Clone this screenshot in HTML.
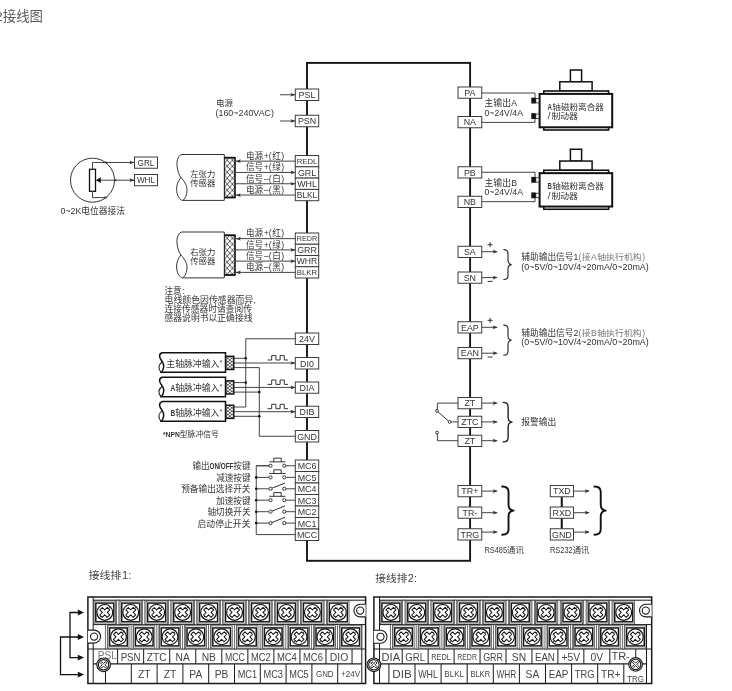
<!DOCTYPE html>
<html><head><meta charset="utf-8"><title>接线图</title>
<style>
html,body{margin:0;padding:0;background:#fff;}
body{width:732px;height:691px;overflow:hidden;font-family:"Liberation Sans","Noto Sans CJK SC",sans-serif;}
svg{display:block;will-change:transform;}
svg text{font-family:"Liberation Sans","Noto Sans CJK SC",sans-serif;}
</style></head>
<body>
<svg width="732" height="691" viewBox="0 0 732 691">
<rect x="0" y="0" width="732" height="691" fill="#ffffff"/>
<text x="2.75" y="20.8" font-size="13.4" fill="#5a5a5a" textLength="40.2" lengthAdjust="spacingAndGlyphs">接线图</text><text x="-4.7" y="20.8" font-size="13.4" fill="#5a5a5a">2</text>
<rect x="307.0" y="62.9" width="163.1" height="497.9" fill="none" stroke="#161616" stroke-width="1.9" />
<rect x="295.3" y="89" width="23.4" height="11.5" fill="#fff" stroke="#3c3c3c" stroke-width="1" />
<text x="307.0" y="98.01444444444444" font-size="8.9" text-anchor="middle" fill="#333333" >PSL</text>
<rect x="295.3" y="115.25" width="23.4" height="11.5" fill="#fff" stroke="#3c3c3c" stroke-width="1" />
<text x="307.0" y="124.26444444444444" font-size="8.9" text-anchor="middle" fill="#333333" >PSN</text>
<rect x="295.3" y="155.5" width="23.4" height="11.3" fill="#fff" stroke="#3c3c3c" stroke-width="1" />
<text x="307.0" y="163.98247943351035" font-size="7.69" text-anchor="middle" fill="#333333" >REDL</text>
<rect x="295.3" y="166.8" width="23.4" height="11.3" fill="#fff" stroke="#3c3c3c" stroke-width="1" />
<text x="307.0" y="175.71444444444447" font-size="8.9" text-anchor="middle" fill="#333333" >GRL</text>
<rect x="295.3" y="178.1" width="23.4" height="11.3" fill="#fff" stroke="#3c3c3c" stroke-width="1" />
<text x="307.0" y="187.01444444444445" font-size="8.9" text-anchor="middle" fill="#333333" >WHL</text>
<rect x="295.3" y="189.4" width="23.4" height="11.3" fill="#fff" stroke="#3c3c3c" stroke-width="1" />
<text x="307.0" y="198.12961732810993" font-size="8.38" text-anchor="middle" fill="#333333" >BLKL</text>
<rect x="295.3" y="233.0" width="23.4" height="11.25" fill="#fff" stroke="#3c3c3c" stroke-width="1" />
<text x="307.0" y="241.29731259381796" font-size="7.23" text-anchor="middle" fill="#333333" >REDR</text>
<rect x="295.3" y="244.25" width="23.4" height="11.25" fill="#fff" stroke="#3c3c3c" stroke-width="1" />
<text x="307.0" y="253.13944444444445" font-size="8.9" text-anchor="middle" fill="#333333" >GRR</text>
<rect x="295.3" y="255.5" width="23.4" height="11.25" fill="#fff" stroke="#3c3c3c" stroke-width="1" />
<text x="307.0" y="264.2769390833424" font-size="8.58" text-anchor="middle" fill="#333333" >WHR</text>
<rect x="295.3" y="266.75" width="23.4" height="11.25" fill="#fff" stroke="#3c3c3c" stroke-width="1" />
<text x="307.0" y="275.26517219264844" font-size="7.85" text-anchor="middle" fill="#333333" >BLKR</text>
<rect x="295.3" y="333" width="23.4" height="11.5" fill="#fff" stroke="#3c3c3c" stroke-width="1" />
<text x="307.0" y="342.01444444444445" font-size="8.9" text-anchor="middle" fill="#333333" >24V</text>
<rect x="295.3" y="357.5" width="23.4" height="11.5" fill="#fff" stroke="#3c3c3c" stroke-width="1" />
<text x="307.0" y="366.51444444444445" font-size="8.9" text-anchor="middle" fill="#333333" >DI0</text>
<rect x="295.3" y="382" width="23.4" height="11.25" fill="#fff" stroke="#3c3c3c" stroke-width="1" />
<text x="307.0" y="390.88944444444445" font-size="8.9" text-anchor="middle" fill="#333333" >DIA</text>
<rect x="295.3" y="406.25" width="23.4" height="11.25" fill="#fff" stroke="#3c3c3c" stroke-width="1" />
<text x="307.0" y="415.13944444444445" font-size="8.9" text-anchor="middle" fill="#333333" >DIB</text>
<rect x="295.3" y="430.5" width="23.4" height="11.5" fill="#fff" stroke="#3c3c3c" stroke-width="1" />
<text x="307.0" y="439.51444444444445" font-size="8.9" text-anchor="middle" fill="#333333" >GND</text>
<rect x="295.3" y="460.0" width="23.4" height="11.5" fill="#fff" stroke="#3c3c3c" stroke-width="1" />
<text x="307.0" y="469.01444444444445" font-size="8.9" text-anchor="middle" fill="#333333" >MC6</text>
<rect x="295.3" y="471.5" width="23.4" height="11.5" fill="#fff" stroke="#3c3c3c" stroke-width="1" />
<text x="307.0" y="480.51444444444445" font-size="8.9" text-anchor="middle" fill="#333333" >MC5</text>
<rect x="295.3" y="483.0" width="23.4" height="11.5" fill="#fff" stroke="#3c3c3c" stroke-width="1" />
<text x="307.0" y="492.01444444444445" font-size="8.9" text-anchor="middle" fill="#333333" >MC4</text>
<rect x="295.3" y="494.5" width="23.4" height="11.5" fill="#fff" stroke="#3c3c3c" stroke-width="1" />
<text x="307.0" y="503.51444444444445" font-size="8.9" text-anchor="middle" fill="#333333" >MC3</text>
<rect x="295.3" y="506.0" width="23.4" height="11.5" fill="#fff" stroke="#3c3c3c" stroke-width="1" />
<text x="307.0" y="515.0144444444445" font-size="8.9" text-anchor="middle" fill="#333333" >MC2</text>
<rect x="295.3" y="517.5" width="23.4" height="11.5" fill="#fff" stroke="#3c3c3c" stroke-width="1" />
<text x="307.0" y="526.5144444444445" font-size="8.9" text-anchor="middle" fill="#333333" >MC1</text>
<rect x="295.3" y="529.0" width="23.4" height="11.5" fill="#fff" stroke="#3c3c3c" stroke-width="1" />
<text x="307.0" y="538.0144444444445" font-size="8.9" text-anchor="middle" fill="#333333" >MCC</text>
<rect x="458.0" y="87.0" width="23.75" height="11.25" fill="#fff" stroke="#3c3c3c" stroke-width="1" />
<text x="469.875" y="95.88944444444444" font-size="8.9" text-anchor="middle" fill="#333333" >PA</text>
<rect x="458.0" y="116.5" width="23.75" height="11.25" fill="#fff" stroke="#3c3c3c" stroke-width="1" />
<text x="469.875" y="125.38944444444444" font-size="8.9" text-anchor="middle" fill="#333333" >NA</text>
<rect x="458.0" y="166.75" width="23.75" height="11.25" fill="#fff" stroke="#3c3c3c" stroke-width="1" />
<text x="469.875" y="175.63944444444445" font-size="8.9" text-anchor="middle" fill="#333333" >PB</text>
<rect x="458.0" y="196.25" width="23.75" height="11.25" fill="#fff" stroke="#3c3c3c" stroke-width="1" />
<text x="469.875" y="205.13944444444445" font-size="8.9" text-anchor="middle" fill="#333333" >NB</text>
<rect x="458.0" y="246.25" width="23.75" height="11.25" fill="#fff" stroke="#3c3c3c" stroke-width="1" />
<text x="469.875" y="255.13944444444445" font-size="8.9" text-anchor="middle" fill="#333333" >SA</text>
<rect x="458.0" y="272" width="23.75" height="11.25" fill="#fff" stroke="#3c3c3c" stroke-width="1" />
<text x="469.875" y="280.88944444444445" font-size="8.9" text-anchor="middle" fill="#333333" >SN</text>
<rect x="458.0" y="321.75" width="23.75" height="11.25" fill="#fff" stroke="#3c3c3c" stroke-width="1" />
<text x="469.875" y="330.63944444444445" font-size="8.9" text-anchor="middle" fill="#333333" >EAP</text>
<rect x="458.0" y="347.5" width="23.75" height="11.25" fill="#fff" stroke="#3c3c3c" stroke-width="1" />
<text x="469.875" y="356.38944444444445" font-size="8.9" text-anchor="middle" fill="#333333" >EAN</text>
<rect x="458.0" y="397.5" width="23.75" height="11.25" fill="#fff" stroke="#3c3c3c" stroke-width="1" />
<text x="469.875" y="406.38944444444445" font-size="8.9" text-anchor="middle" fill="#333333" >ZT</text>
<rect x="458.0" y="416.25" width="23.75" height="11.25" fill="#fff" stroke="#3c3c3c" stroke-width="1" />
<text x="469.875" y="425.13944444444445" font-size="8.9" text-anchor="middle" fill="#333333" >ZTC</text>
<rect x="458.0" y="435.25" width="23.75" height="11.25" fill="#fff" stroke="#3c3c3c" stroke-width="1" />
<text x="469.875" y="444.13944444444445" font-size="8.9" text-anchor="middle" fill="#333333" >ZT</text>
<rect x="458.0" y="485.5" width="23.75" height="11.25" fill="#fff" stroke="#3c3c3c" stroke-width="1" />
<text x="469.875" y="494.38944444444445" font-size="8.9" text-anchor="middle" fill="#333333" >TR+</text>
<rect x="458.0" y="507" width="23.75" height="11.25" fill="#fff" stroke="#3c3c3c" stroke-width="1" />
<text x="469.875" y="515.8894444444445" font-size="8.9" text-anchor="middle" fill="#333333" >TR-</text>
<rect x="458.0" y="528.75" width="23.75" height="11.25" fill="#fff" stroke="#3c3c3c" stroke-width="1" />
<text x="469.875" y="537.6394444444445" font-size="8.9" text-anchor="middle" fill="#333333" >TRG</text>
<line x1="561.75" y1="497" x2="561.75" y2="529" stroke="#111" stroke-width="2" />
<rect x="550.3" y="485.5" width="23.2" height="11.25" fill="#fff" stroke="#3c3c3c" stroke-width="1" />
<text x="561.9" y="494.38944444444445" font-size="8.9" text-anchor="middle" fill="#333333" >TXD</text>
<rect x="550.3" y="507" width="23.2" height="11.25" fill="#fff" stroke="#3c3c3c" stroke-width="1" />
<text x="561.9" y="515.8894444444445" font-size="8.9" text-anchor="middle" fill="#333333" >RXD</text>
<rect x="550.3" y="528.75" width="23.2" height="11.25" fill="#fff" stroke="#3c3c3c" stroke-width="1" />
<text x="561.9" y="537.6394444444445" font-size="8.9" text-anchor="middle" fill="#333333" >GND</text>
<line x1="280" y1="94.75" x2="295" y2="94.75" stroke="#444" stroke-width="1" />
<polygon points="295.5,94.75 290.5,92.9 291.5,94.75 290.5,96.6" fill="#333"/>
<line x1="280" y1="121" x2="295" y2="121" stroke="#444" stroke-width="1" />
<polygon points="295.5,121 290.5,119.15 291.5,121 290.5,122.85" fill="#333"/>
<text x="216" y="106.3" font-size="8.4" fill="#333333" textLength="17" lengthAdjust="spacingAndGlyphs">电源</text>
<text x="215.5" y="116" font-size="8.9" text-anchor="start" fill="#333333" textLength="58.5" lengthAdjust="spacingAndGlyphs" >(160~240VAC)</text>
<circle cx="92.5" cy="180.2" r="22" fill="none" stroke="#333" stroke-width="1"/>
<rect x="89.5" y="169.3" width="6" height="22" fill="#fff" stroke="#111" stroke-width="1.3" />
<polyline points="92.5,169.3 92.5,162.5 134,162.5" fill="none" stroke="#444" stroke-width="1" />
<polygon points="134.5,162.5 129.5,160.65 130.5,162.5 129.5,164.35" fill="#333"/>
<polygon points="108.5,162.5 105.0,161.1 106.0,162.5 105.0,163.9" fill="#333"/>
<polyline points="92.5,191.3 92.5,197.6 107,197.6" fill="none" stroke="#444" stroke-width="1" />
<polygon points="107.5,197.6 104.0,196.2 105.0,197.6 104.0,199.0" fill="#333"/>
<line x1="100" y1="180.2" x2="134" y2="180.2" stroke="#444" stroke-width="1" />
<polygon points="95.8,180.2 100.8,177.3 100.8,183.1" fill="#111"/>
<polygon points="113.5,180.2 117.0,178.79999999999998 116.0,180.2 117.0,181.6" fill="#333"/>
<polygon points="134.5,180.2 129.5,178.35 130.5,180.2 129.5,182.04999999999998" fill="#333"/>
<rect x="134.5" y="157" width="23" height="11.25" fill="#fff" stroke="#3c3c3c" stroke-width="1" />
<text x="146.0" y="165.64055555555555" font-size="8.2" text-anchor="middle" fill="#333333" >GRL</text>
<rect x="134.5" y="174.5" width="23" height="11.25" fill="#fff" stroke="#3c3c3c" stroke-width="1" />
<text x="146.0" y="183.14055555555555" font-size="8.2" text-anchor="middle" fill="#333333" >WHL</text>
<text x="60.5" y="213.8" font-size="8.7" fill="#333333" textLength="20.73" lengthAdjust="spacingAndGlyphs">0~2K</text><text x="81.28" y="213.8" font-size="8.7" fill="#333333" textLength="43.7" lengthAdjust="spacingAndGlyphs">电位器接法</text>
<defs><pattern id="hatch" x="224.6" y="1.2" width="5.2" height="6" patternUnits="userSpaceOnUse"><rect width="5.2" height="6" fill="#fff"/><path d="M0,0 L5.2,6 M5.2,0 L0,6" stroke="#222" stroke-width="0.75"/></pattern></defs>
<path d="M224.3,154.5 L182,154.5 C179,154.5 176.4,160.0 177,165.5 C177.5,171.0 179,175.0 181,177.5 C184,181.0 187,185.0 187,189.5 C187,195.0 185,199.0 182.6,200.4 L224.3,200.4 Z" fill="#fff" stroke="#333" stroke-width="1" />
<path d="M181,177.5 C178,181.0 176.5,185.0 176.6,189.5 C176.7,195.0 179.5,200.0 182.6,200.4" fill="none" stroke="#333" stroke-width="1" />
<rect x="224.6" y="157.7" width="10.4" height="39.8" fill="url(#hatch)" stroke="none"/>
<line x1="224.29999999999998" y1="157.7" x2="235.6" y2="157.7" stroke="#111" stroke-width="1.8" />
<line x1="224.29999999999998" y1="197.5" x2="235.6" y2="197.5" stroke="#111" stroke-width="1.8" />
<line x1="235.0" y1="157.7" x2="235.0" y2="197.5" stroke="#111" stroke-width="1.6" />
<line x1="224.6" y1="157.7" x2="224.6" y2="197.5" stroke="#222" stroke-width="1.0" />
<text x="190.2" y="177.1" font-size="8.3" fill="#333333" textLength="25.2" lengthAdjust="spacingAndGlyphs">左张力</text>
<text x="190.2" y="186.4" font-size="8.3" fill="#333333" textLength="25.2" lengthAdjust="spacingAndGlyphs">传感器</text>
<line x1="235.5" y1="161.15" x2="295.5" y2="161.15" stroke="#444" stroke-width="1" />
<polygon points="235.8,161.15 240.8,159.3 239.8,161.15 240.8,163.0" fill="#333"/>
<text y="158.95" font-size="8.6" fill="#333333"><tspan x="246">电源</tspan><tspan x="263.78">+(</tspan><tspan x="272.25">红</tspan><tspan x="281.14">)</tspan></text>
<line x1="235.5" y1="172.45" x2="295.5" y2="172.45" stroke="#444" stroke-width="1" />
<polygon points="295.5,172.45 290.5,170.6 291.5,172.45 290.5,174.29999999999998" fill="#333"/>
<text y="170.25" font-size="8.6" fill="#333333"><tspan x="246">信号</tspan><tspan x="263.78">+(</tspan><tspan x="272.25">绿</tspan><tspan x="281.14">)</tspan></text>
<line x1="235.5" y1="183.75" x2="295.5" y2="183.75" stroke="#444" stroke-width="1" />
<polygon points="295.5,183.75 290.5,181.9 291.5,183.75 290.5,185.6" fill="#333"/>
<text y="181.55" font-size="8.6" fill="#333333"><tspan x="246">信号</tspan><tspan x="263.88">–(</tspan><tspan x="272.2">白</tspan><tspan x="281.14">)</tspan></text>
<line x1="235.5" y1="195.05" x2="295.5" y2="195.05" stroke="#444" stroke-width="1" />
<polygon points="235.8,195.05 240.8,193.20000000000002 239.8,195.05 240.8,196.9" fill="#333"/>
<text y="192.85" font-size="8.6" fill="#333333"><tspan x="246">电源</tspan><tspan x="263.88">–(</tspan><tspan x="272.2">黑</tspan><tspan x="281.14">)</tspan></text>
<path d="M224.3,232 L182,232 C179,232 176.4,237.5 177,243 C177.5,248.5 179,252.5 181,255 C184,258.5 187,262.5 187,267 C187,272.5 185,276.5 182.6,277.9 L224.3,277.9 Z" fill="#fff" stroke="#333" stroke-width="1" />
<path d="M181,255 C178,258.5 176.5,262.5 176.6,267 C176.7,272.5 179.5,277.5 182.6,277.9" fill="none" stroke="#333" stroke-width="1" />
<rect x="224.6" y="235.2" width="10.4" height="39.8" fill="url(#hatch)" stroke="none"/>
<line x1="224.29999999999998" y1="235.2" x2="235.6" y2="235.2" stroke="#111" stroke-width="1.8" />
<line x1="224.29999999999998" y1="275.0" x2="235.6" y2="275.0" stroke="#111" stroke-width="1.8" />
<line x1="235.0" y1="235.2" x2="235.0" y2="275.0" stroke="#111" stroke-width="1.6" />
<line x1="224.6" y1="235.2" x2="224.6" y2="275.0" stroke="#222" stroke-width="1.0" />
<text x="190.2" y="254.6" font-size="8.3" fill="#333333" textLength="25.2" lengthAdjust="spacingAndGlyphs">右张力</text>
<text x="190.2" y="263.9" font-size="8.3" fill="#333333" textLength="25.2" lengthAdjust="spacingAndGlyphs">传感器</text>
<line x1="235.5" y1="238.625" x2="295.5" y2="238.625" stroke="#444" stroke-width="1" />
<polygon points="235.8,238.625 240.8,236.775 239.8,238.625 240.8,240.475" fill="#333"/>
<text y="236.425" font-size="8.6" fill="#333333"><tspan x="246">电源</tspan><tspan x="263.78">+(</tspan><tspan x="272.25">红</tspan><tspan x="281.14">)</tspan></text>
<line x1="235.5" y1="249.875" x2="295.5" y2="249.875" stroke="#444" stroke-width="1" />
<polygon points="295.5,249.875 290.5,248.025 291.5,249.875 290.5,251.725" fill="#333"/>
<text y="247.675" font-size="8.6" fill="#333333"><tspan x="246">信号</tspan><tspan x="263.78">+(</tspan><tspan x="272.25">绿</tspan><tspan x="281.14">)</tspan></text>
<line x1="235.5" y1="261.125" x2="295.5" y2="261.125" stroke="#444" stroke-width="1" />
<polygon points="295.5,261.125 290.5,259.275 291.5,261.125 290.5,262.975" fill="#333"/>
<text y="258.925" font-size="8.6" fill="#333333"><tspan x="246">信号</tspan><tspan x="263.88">–(</tspan><tspan x="272.2">白</tspan><tspan x="281.14">)</tspan></text>
<line x1="235.5" y1="272.375" x2="295.5" y2="272.375" stroke="#444" stroke-width="1" />
<polygon points="235.8,272.375 240.8,270.525 239.8,272.375 240.8,274.225" fill="#333"/>
<text y="270.175" font-size="8.6" fill="#333333"><tspan x="246">电源</tspan><tspan x="263.88">–(</tspan><tspan x="272.2">黑</tspan><tspan x="281.14">)</tspan></text>
<text y="294" font-size="8.6" fill="#333333"><tspan x="164.5">注意</tspan><tspan x="182.61">:</tspan></text>
<text x="164.5" y="303.2" font-size="8.6" fill="#333333" textLength="88.8" lengthAdjust="spacingAndGlyphs">电线颜色因传感器而异</text><text x="253.61" y="303.2" font-size="8.6" fill="#333333">,</text>
<text x="164.5" y="312.3" font-size="8.6" fill="#333333" textLength="87.5" lengthAdjust="spacingAndGlyphs">连接传感器时请查阅传</text>
<text x="164.5" y="321.4" font-size="8.6" fill="#333333" textLength="88" lengthAdjust="spacingAndGlyphs">感器说明书以正确接线</text>
<defs><pattern id="hatch2" x="225.8" y="0.3" width="4" height="3.3" patternUnits="userSpaceOnUse"><rect width="4" height="3.3" fill="#fff"/><path d="M0,0 L4,3.3 M4,0 L0,3.3" stroke="#222" stroke-width="0.7"/></pattern></defs>
<polyline points="295.5,338.75 245.75,338.75 245.75,407 234,407" fill="none" stroke="#444" stroke-width="1" />
<line x1="234" y1="358.3" x2="245.75" y2="358.3" stroke="#444" stroke-width="1" />
<line x1="234" y1="382.6" x2="245.75" y2="382.6" stroke="#444" stroke-width="1" />
<polyline points="234,367.6 259.3,367.6 259.3,436.25 295.5,436.25" fill="none" stroke="#444" stroke-width="1" />
<line x1="234" y1="392.1" x2="259.3" y2="392.1" stroke="#444" stroke-width="1" />
<line x1="234" y1="416.3" x2="259.3" y2="416.3" stroke="#444" stroke-width="1" />
<line x1="234" y1="363" x2="295" y2="363" stroke="#444" stroke-width="1" />
<polygon points="295.5,363 290.5,361.15 291.5,363 290.5,364.85" fill="#333"/>
<line x1="234" y1="387.4" x2="295" y2="387.4" stroke="#444" stroke-width="1" />
<polygon points="295.5,387.4 290.5,385.54999999999995 291.5,387.4 290.5,389.25" fill="#333"/>
<line x1="234" y1="411.7" x2="295" y2="411.7" stroke="#444" stroke-width="1" />
<polygon points="295.5,411.7 290.5,409.84999999999997 291.5,411.7 290.5,413.55" fill="#333"/>
<circle cx="245.75" cy="358.3" r="1.3" fill="#111" stroke="none" stroke-width="0"/>
<circle cx="245.75" cy="382.6" r="1.3" fill="#111" stroke="none" stroke-width="0"/>
<circle cx="259.3" cy="392.1" r="1.3" fill="#111" stroke="none" stroke-width="0"/>
<circle cx="259.3" cy="416.3" r="1.3" fill="#111" stroke="none" stroke-width="0"/>
<path d="M225.5,352.7 L162,352.7 C160.6,353.3 159.4,354.9 159.6,356.5 C159.9,358.7 161.3,360.2 162.3,361.7 C163.4,363.3 164,365.09999999999997 163.7,366.9 C163.4,369.09999999999997 162.4,371.09999999999997 161.3,372.3 L225.5,372.3 Z" fill="#fff" stroke="#111" stroke-width="1.5" />
<path d="M162.3,361.7 C160.3,363.3 158.9,365.09999999999997 158.9,367.09999999999997 C158.9,369.3 160,371.3 161.3,372.3" fill="none" stroke="#222" stroke-width="1.1" />
<rect x="225.8" y="356.3" width="8" height="13.2" fill="url(#hatch2)" stroke="#111" stroke-width="1.4"/>
<text x="166.3" y="366.7" font-size="8.8" fill="#333333" textLength="53.1" lengthAdjust="spacingAndGlyphs">主轴脉冲输入</text>
<text x="219.8" y="364.9" font-size="6.5" text-anchor="start" fill="#333333" >*</text>
<path d="M225.5,377.2 L162,377.2 C160.6,377.8 159.4,379.4 159.6,381.0 C159.9,383.2 161.3,384.7 162.3,386.2 C163.4,387.8 164,389.59999999999997 163.7,391.4 C163.4,393.59999999999997 162.4,395.59999999999997 161.3,396.8 L225.5,396.8 Z" fill="#fff" stroke="#111" stroke-width="1.5" />
<path d="M162.3,386.2 C160.3,387.8 158.9,389.59999999999997 158.9,391.59999999999997 C158.9,393.8 160,395.8 161.3,396.8" fill="none" stroke="#222" stroke-width="1.1" />
<rect x="225.8" y="380.8" width="8" height="13.2" fill="url(#hatch2)" stroke="#111" stroke-width="1.4"/>
<text x="170.5" y="391.2" font-size="8.8" fill="#333333" font-weight="bold" textLength="4.7" lengthAdjust="spacingAndGlyphs">A</text><text x="175.23" y="391.2" font-size="8.8" fill="#333333" textLength="44.2" lengthAdjust="spacingAndGlyphs">轴脉冲输入</text>
<text x="219.8" y="389.4" font-size="6.5" text-anchor="start" fill="#333333" >*</text>
<path d="M225.5,401.6 L162,401.6 C160.6,402.20000000000005 159.4,403.8 159.6,405.40000000000003 C159.9,407.6 161.3,409.1 162.3,410.6 C163.4,412.20000000000005 164,414.0 163.7,415.8 C163.4,418.0 162.4,420.0 161.3,421.20000000000005 L225.5,421.20000000000005 Z" fill="#fff" stroke="#111" stroke-width="1.5" />
<path d="M162.3,410.6 C160.3,412.20000000000005 158.9,414.0 158.9,416.0 C158.9,418.20000000000005 160,420.20000000000005 161.3,421.20000000000005" fill="none" stroke="#222" stroke-width="1.1" />
<rect x="225.8" y="405.20000000000005" width="8" height="13.2" fill="url(#hatch2)" stroke="#111" stroke-width="1.4"/>
<text x="170.5" y="415.6" font-size="8.8" fill="#333333" font-weight="bold" textLength="4.7" lengthAdjust="spacingAndGlyphs">B</text><text x="175.23" y="415.6" font-size="8.8" fill="#333333" textLength="44.2" lengthAdjust="spacingAndGlyphs">轴脉冲输入</text>
<text x="219.8" y="413.8" font-size="6.5" text-anchor="start" fill="#333333" >*</text>
<polyline points="267.5,360 271.7,360 271.7,355.6 275.9,355.6 275.9,360 280.1,360 280.1,355.6 284.3,355.6 284.3,360 288.0,360" fill="none" stroke="#333" stroke-width="1" />
<polyline points="267.5,384.4 271.7,384.4 271.7,380.0 275.9,380.0 275.9,384.4 280.1,384.4 280.1,380.0 284.3,380.0 284.3,384.4 288.0,384.4" fill="none" stroke="#333" stroke-width="1" />
<polyline points="267.5,408.7 271.7,408.7 271.7,404.3 275.9,404.3 275.9,408.7 280.1,408.7 280.1,404.3 284.3,404.3 284.3,408.7 288.0,408.7" fill="none" stroke="#333" stroke-width="1" />
<text x="163" y="436.8" font-size="7.8" fill="#333333" font-weight="bold" textLength="16.78" lengthAdjust="spacingAndGlyphs">*NPN</text><text x="179.79" y="436.8" font-size="7.8" fill="#333333" textLength="39" lengthAdjust="spacingAndGlyphs">型脉冲信号</text>
<polyline points="270.25,465.75 256.25,465.75 256.25,534.6 295.5,534.6" fill="none" stroke="#444" stroke-width="1" />
<line x1="256.25" y1="465.75" x2="268.8" y2="465.75" stroke="#444" stroke-width="1" />
<circle cx="270.5" cy="465.75" r="1.6" fill="#fff" stroke="#333" stroke-width="1"/>
<circle cx="284.3" cy="465.75" r="1.6" fill="#fff" stroke="#333" stroke-width="1"/>
<line x1="286" y1="465.75" x2="295.5" y2="465.75" stroke="#444" stroke-width="1" />
<line x1="269.3" y1="461.85" x2="285.5" y2="461.85" stroke="#333" stroke-width="1" />
<polyline points="273.8,461.85 273.8,458.15 281.2,458.15 281.2,461.85" fill="none" stroke="#333" stroke-width="1" />
<text x="192.5" y="469.35" font-size="8.6" fill="#333333" textLength="17.1" lengthAdjust="spacingAndGlyphs">输出</text><text x="209.6" y="469.35" font-size="8.6" fill="#333333" font-weight="bold" textLength="23.79" lengthAdjust="spacingAndGlyphs">ON/OFF</text><text x="233.35" y="469.35" font-size="8.6" fill="#333333" textLength="17.1" lengthAdjust="spacingAndGlyphs">按键</text>
<line x1="256.25" y1="477.4" x2="268.8" y2="477.4" stroke="#444" stroke-width="1" />
<circle cx="256.25" cy="477.4" r="1.3" fill="#111" stroke="none" stroke-width="0"/>
<circle cx="270.5" cy="477.4" r="1.6" fill="#fff" stroke="#333" stroke-width="1"/>
<circle cx="284.3" cy="477.4" r="1.6" fill="#fff" stroke="#333" stroke-width="1"/>
<line x1="286" y1="477.4" x2="295.5" y2="477.4" stroke="#444" stroke-width="1" />
<line x1="269.3" y1="473.5" x2="285.5" y2="473.5" stroke="#333" stroke-width="1" />
<polyline points="273.8,473.5 273.8,469.79999999999995 281.2,469.79999999999995 281.2,473.5" fill="none" stroke="#333" stroke-width="1" />
<text x="216.2" y="481" font-size="8.6" fill="#333333" textLength="34.3" lengthAdjust="spacingAndGlyphs">减速按键</text>
<line x1="256.25" y1="488.8" x2="268.8" y2="488.8" stroke="#444" stroke-width="1" />
<circle cx="256.25" cy="488.8" r="1.3" fill="#111" stroke="none" stroke-width="0"/>
<circle cx="270.5" cy="488.8" r="1.6" fill="#fff" stroke="#333" stroke-width="1"/>
<circle cx="284.3" cy="488.8" r="1.6" fill="#fff" stroke="#333" stroke-width="1"/>
<line x1="286" y1="488.8" x2="295.5" y2="488.8" stroke="#444" stroke-width="1" />
<line x1="272" y1="488.2" x2="285" y2="483.0" stroke="#333" stroke-width="1" />
<text x="181.2" y="492.4" font-size="8.6" fill="#333333" textLength="69.3" lengthAdjust="spacingAndGlyphs">预备输出选择开关</text>
<line x1="256.25" y1="500.2" x2="268.8" y2="500.2" stroke="#444" stroke-width="1" />
<circle cx="256.25" cy="500.2" r="1.3" fill="#111" stroke="none" stroke-width="0"/>
<circle cx="270.5" cy="500.2" r="1.6" fill="#fff" stroke="#333" stroke-width="1"/>
<circle cx="284.3" cy="500.2" r="1.6" fill="#fff" stroke="#333" stroke-width="1"/>
<line x1="286" y1="500.2" x2="295.5" y2="500.2" stroke="#444" stroke-width="1" />
<line x1="269.3" y1="496.3" x2="285.5" y2="496.3" stroke="#333" stroke-width="1" />
<polyline points="273.8,496.3 273.8,492.59999999999997 281.2,492.59999999999997 281.2,496.3" fill="none" stroke="#333" stroke-width="1" />
<text x="216.2" y="503.8" font-size="8.6" fill="#333333" textLength="34.3" lengthAdjust="spacingAndGlyphs">加速按键</text>
<line x1="256.25" y1="511.7" x2="268.8" y2="511.7" stroke="#444" stroke-width="1" />
<circle cx="256.25" cy="511.7" r="1.3" fill="#111" stroke="none" stroke-width="0"/>
<circle cx="270.5" cy="511.7" r="1.6" fill="#fff" stroke="#333" stroke-width="1"/>
<circle cx="284.3" cy="511.7" r="1.6" fill="#fff" stroke="#333" stroke-width="1"/>
<line x1="286" y1="511.7" x2="295.5" y2="511.7" stroke="#444" stroke-width="1" />
<line x1="272" y1="511.09999999999997" x2="285" y2="505.9" stroke="#333" stroke-width="1" />
<text x="207.5" y="515.3" font-size="8.6" fill="#333333" textLength="43" lengthAdjust="spacingAndGlyphs">轴切换开关</text>
<line x1="256.25" y1="523.1" x2="268.8" y2="523.1" stroke="#444" stroke-width="1" />
<circle cx="256.25" cy="523.1" r="1.3" fill="#111" stroke="none" stroke-width="0"/>
<circle cx="270.5" cy="523.1" r="1.6" fill="#fff" stroke="#333" stroke-width="1"/>
<circle cx="284.3" cy="523.1" r="1.6" fill="#fff" stroke="#333" stroke-width="1"/>
<line x1="286" y1="523.1" x2="295.5" y2="523.1" stroke="#444" stroke-width="1" />
<line x1="272" y1="522.5" x2="285" y2="517.3000000000001" stroke="#333" stroke-width="1" />
<text x="197.5" y="526.7" font-size="8.6" fill="#333333" textLength="53" lengthAdjust="spacingAndGlyphs">启动停止开关</text>
<polyline points="481.75,93 535,93 535,98" fill="none" stroke="#444" stroke-width="1" />
<polyline points="481.75,122.4 535,122.4 535,118.8" fill="none" stroke="#444" stroke-width="1" />
<rect x="570.4" y="70" width="11.2" height="11.8" fill="#fff" stroke="#111" stroke-width="1.5" />
<rect x="559.8" y="81.8" width="32.3" height="9.2" fill="#fff" stroke="#111" stroke-width="1.5" />
<rect x="543.8" y="91" width="64.8" height="39" fill="#fff" stroke="#111" stroke-width="1.6" />
<rect x="539.6" y="93.9" width="72.6" height="33.4" fill="#fff" stroke="#111" stroke-width="2" />
<rect x="535.8" y="98.5" width="3.2" height="4.4" fill="#fff" stroke="#222" stroke-width="0.8" />
<rect x="531.3" y="97.7" width="4.5" height="5.8" fill="#111" stroke="none" stroke-width="0" />
<rect x="535.8" y="114.0" width="3.2" height="4.4" fill="#fff" stroke="#222" stroke-width="0.8" />
<rect x="531.3" y="113.2" width="4.5" height="5.8" fill="#111" stroke="none" stroke-width="0" />
<text x="547.5" y="109.6" font-size="8.2" fill="#333333" font-weight="bold" textLength="4.38" lengthAdjust="spacingAndGlyphs">A</text><text x="552.33" y="109.6" font-size="8.2" fill="#333333" textLength="51.5" lengthAdjust="spacingAndGlyphs">轴磁粉离合器</text>
<text x="547.8" y="119.3" font-size="8.2" fill="#333333" textLength="2.73" lengthAdjust="spacingAndGlyphs">/</text><text x="551.42" y="119.3" font-size="8.2" fill="#333333" textLength="26.4" lengthAdjust="spacingAndGlyphs">制动器</text>
<polyline points="481.75,172.25 535,172.25 535,177.25" fill="none" stroke="#444" stroke-width="1" />
<polyline points="481.75,201.65 535,201.65 535,198.05" fill="none" stroke="#444" stroke-width="1" />
<rect x="570.4" y="149.25" width="11.2" height="11.8" fill="#fff" stroke="#111" stroke-width="1.5" />
<rect x="559.8" y="161.05" width="32.3" height="9.2" fill="#fff" stroke="#111" stroke-width="1.5" />
<rect x="543.8" y="170.25" width="64.8" height="39" fill="#fff" stroke="#111" stroke-width="1.6" />
<rect x="539.6" y="173.15" width="72.6" height="33.4" fill="#fff" stroke="#111" stroke-width="2" />
<rect x="535.8" y="177.75" width="3.2" height="4.4" fill="#fff" stroke="#222" stroke-width="0.8" />
<rect x="531.3" y="176.95" width="4.5" height="5.8" fill="#111" stroke="none" stroke-width="0" />
<rect x="535.8" y="193.25" width="3.2" height="4.4" fill="#fff" stroke="#222" stroke-width="0.8" />
<rect x="531.3" y="192.45" width="4.5" height="5.8" fill="#111" stroke="none" stroke-width="0" />
<text x="547.5" y="188.85" font-size="8.2" fill="#333333" font-weight="bold" textLength="4.38" lengthAdjust="spacingAndGlyphs">B</text><text x="552.33" y="188.85" font-size="8.2" fill="#333333" textLength="51.5" lengthAdjust="spacingAndGlyphs">轴磁粉离合器</text>
<text x="547.8" y="198.55" font-size="8.2" fill="#333333" textLength="2.73" lengthAdjust="spacingAndGlyphs">/</text><text x="551.42" y="198.55" font-size="8.2" fill="#333333" textLength="26.4" lengthAdjust="spacingAndGlyphs">制动器</text>
<text x="484.5" y="106.3" font-size="8.7" fill="#333333" textLength="26.5" lengthAdjust="spacingAndGlyphs">主输出</text><text x="511.2" y="106.3" font-size="8.7" fill="#333333">A</text>
<text x="484.5" y="116" font-size="8.9" text-anchor="start" fill="#333333" textLength="38.5" lengthAdjust="spacingAndGlyphs" >0~24V/4A</text>
<text x="484.5" y="185.55" font-size="8.7" fill="#333333" textLength="26.5" lengthAdjust="spacingAndGlyphs">主输出</text><text x="511.2" y="185.55" font-size="8.7" fill="#333333">B</text>
<text x="484.5" y="195.25" font-size="8.9" text-anchor="start" fill="#333333" textLength="38.5" lengthAdjust="spacingAndGlyphs" >0~24V/4A</text>
<line x1="481.75" y1="251.7" x2="496.8" y2="251.7" stroke="#444" stroke-width="1" />
<polygon points="497.8,251.7 492.8,249.85 493.8,251.7 492.8,253.54999999999998" fill="#333"/>
<line x1="481.75" y1="277.6" x2="496.8" y2="277.6" stroke="#444" stroke-width="1" />
<polygon points="497.8,277.6 492.8,275.75 493.8,277.6 492.8,279.45000000000005" fill="#333"/>
<line x1="487.6" y1="244.7" x2="492.6" y2="244.7" stroke="#333" stroke-width="1" />
<line x1="490.1" y1="242.2" x2="490.1" y2="247.2" stroke="#333" stroke-width="1" />
<line x1="487.6" y1="281.4" x2="492.6" y2="281.4" stroke="#333" stroke-width="1" />
<path d="M503.8,249.6 C506.95,249.6 508.0,251.0 508.0,253.6 L508.0,260.6 C508.0,263.0 509.32,264.20000000000005 511.3,264.6 C509.32,265.0 508.0,266.20000000000005 508.0,268.6 L508.0,275.6 C508.0,278.20000000000005 506.95,279.6 503.8,279.6" fill="none" stroke="#333" stroke-width="1.2" stroke-linecap="round" stroke-linejoin="round"/>
<text x="521.3" y="260.3" font-size="8.7" fill="#333333" textLength="52.2" lengthAdjust="spacingAndGlyphs">辅助输出信号</text><text x="573.46" y="260.3" font-size="8.7" fill="#333333">1</text>
<text x="578.6" y="260.3" font-size="8.5" fill="#777">(</text><text x="581.95" y="260.3" font-size="8.5" fill="#777">接</text><text x="590.97" y="260.3" font-size="8.5" fill="#777">A</text><text x="597.16" y="260.3" font-size="8.5" fill="#777" textLength="44.6" lengthAdjust="spacingAndGlyphs">轴执行机构</text><text x="642.27" y="260.3" font-size="8.5" fill="#777">)</text>
<text x="521.3" y="269.8" font-size="8.9" text-anchor="start" fill="#333333" textLength="127.5" lengthAdjust="spacingAndGlyphs" >(0~5V/0~10V/4~20mA/0~20mA)</text>
<line x1="481.75" y1="327.29999999999995" x2="496.8" y2="327.29999999999995" stroke="#444" stroke-width="1" />
<polygon points="497.8,327.29999999999995 492.8,325.44999999999993 493.8,327.29999999999995 492.8,329.15" fill="#333"/>
<line x1="481.75" y1="353.20000000000005" x2="496.8" y2="353.20000000000005" stroke="#444" stroke-width="1" />
<polygon points="497.8,353.20000000000005 492.8,351.35 493.8,353.20000000000005 492.8,355.05000000000007" fill="#333"/>
<line x1="487.6" y1="320.29999999999995" x2="492.6" y2="320.29999999999995" stroke="#333" stroke-width="1" />
<line x1="490.1" y1="317.79999999999995" x2="490.1" y2="322.79999999999995" stroke="#333" stroke-width="1" />
<line x1="487.6" y1="357.0" x2="492.6" y2="357.0" stroke="#333" stroke-width="1" />
<path d="M503.8,325.2 C506.95,325.2 508.0,326.59999999999997 508.0,329.2 L508.0,336.20000000000005 C508.0,338.6 509.32,339.80000000000007 511.3,340.20000000000005 C509.32,340.6 508.0,341.80000000000007 508.0,344.20000000000005 L508.0,351.20000000000005 C508.0,353.80000000000007 506.95,355.20000000000005 503.8,355.20000000000005" fill="none" stroke="#333" stroke-width="1.2" stroke-linecap="round" stroke-linejoin="round"/>
<text x="521.3" y="335.9" font-size="8.7" fill="#333333" textLength="52.2" lengthAdjust="spacingAndGlyphs">辅助输出信号</text><text x="573.46" y="335.9" font-size="8.7" fill="#333333">2</text>
<text x="578.6" y="335.9" font-size="8.5" fill="#777">(</text><text x="581.95" y="335.9" font-size="8.5" fill="#777">接</text><text x="590.97" y="335.9" font-size="8.5" fill="#777">B</text><text x="597.16" y="335.9" font-size="8.5" fill="#777" textLength="44.6" lengthAdjust="spacingAndGlyphs">轴执行机构</text><text x="642.27" y="335.9" font-size="8.5" fill="#777">)</text>
<text x="521.3" y="345.4" font-size="8.9" text-anchor="start" fill="#333333" textLength="127.5" lengthAdjust="spacingAndGlyphs" >(0~5V/0~10V/4~20mA/0~20mA)</text>
<line x1="481.75" y1="403.1" x2="496.8" y2="403.1" stroke="#444" stroke-width="1" />
<polygon points="497.8,403.1 492.8,401.25 493.8,403.1 492.8,404.95000000000005" fill="#333"/>
<line x1="481.75" y1="421.9" x2="496.8" y2="421.9" stroke="#444" stroke-width="1" />
<polygon points="497.8,421.9 492.8,420.04999999999995 493.8,421.9 492.8,423.75" fill="#333"/>
<line x1="481.75" y1="440.7" x2="496.8" y2="440.7" stroke="#444" stroke-width="1" />
<polygon points="497.8,440.7 492.8,438.84999999999997 493.8,440.7 492.8,442.55" fill="#333"/>
<path d="M503.2,402.4 C506.89599999999996,402.4 508.128,403.97499999999997 508.128,406.9 L508.128,417.65 C508.128,420.34999999999997 509.6768,421.75 512.0,422.15 C509.6768,422.54999999999995 508.128,423.95 508.128,426.65 L508.128,437.4 C508.128,440.325 506.89599999999996,441.9 503.2,441.9" fill="none" stroke="#222" stroke-width="1.4" stroke-linecap="round" stroke-linejoin="round"/>
<text x="521.3" y="425.2" font-size="8.7" fill="#333333" textLength="35" lengthAdjust="spacingAndGlyphs">报警输出</text>
<polyline points="458,403.1 437.4,403.1 437.4,409.4" fill="none" stroke="#444" stroke-width="1" />
<circle cx="437" cy="410.8" r="1.4" fill="#fff" stroke="#333" stroke-width="1"/>
<line x1="438" y1="411.9" x2="448.4" y2="420.9" stroke="#333" stroke-width="1" />
<circle cx="449.6" cy="421.9" r="1.4" fill="#fff" stroke="#333" stroke-width="1"/>
<line x1="451" y1="421.9" x2="458" y2="421.9" stroke="#444" stroke-width="1" />
<circle cx="437" cy="432.6" r="1.4" fill="#fff" stroke="#333" stroke-width="1"/>
<polyline points="437.4,434 437.4,440.7 458,440.7" fill="none" stroke="#444" stroke-width="1" />
<line x1="481.75" y1="491.1" x2="496.8" y2="491.1" stroke="#444" stroke-width="1" />
<polygon points="497.8,491.1 492.8,489.25 493.8,491.1 492.8,492.95000000000005" fill="#333"/>
<line x1="573.5" y1="491.1" x2="588.8" y2="491.1" stroke="#444" stroke-width="1" />
<polygon points="589.8,491.1 584.8,489.25 585.8,491.1 584.8,492.95000000000005" fill="#333"/>
<line x1="481.75" y1="512.7" x2="496.8" y2="512.7" stroke="#444" stroke-width="1" />
<polygon points="497.8,512.7 492.8,510.85 493.8,512.7 492.8,514.5500000000001" fill="#333"/>
<line x1="573.5" y1="512.7" x2="588.8" y2="512.7" stroke="#444" stroke-width="1" />
<polygon points="589.8,512.7 584.8,510.85 585.8,512.7 584.8,514.5500000000001" fill="#333"/>
<line x1="481.75" y1="532.1" x2="496.8" y2="532.1" stroke="#444" stroke-width="1" />
<polygon points="497.8,532.1 492.8,530.25 493.8,532.1 492.8,533.95" fill="#333"/>
<line x1="573.5" y1="532.1" x2="588.8" y2="532.1" stroke="#444" stroke-width="1" />
<polygon points="589.8,532.1 584.8,530.25 585.8,532.1 584.8,533.95" fill="#333"/>
<path d="M502.1,486.5 C506.93,486.5 508.54,488.425 508.54,492.0 L508.54,505.1 C508.54,508.40000000000003 510.564,510.20000000000005 513.6,510.6 C510.564,511.0 508.54,512.8000000000001 508.54,516.1 L508.54,529.2 C508.54,532.7750000000001 506.93,534.7 502.1,534.7" fill="none" stroke="#111" stroke-width="1.9" stroke-linecap="round" stroke-linejoin="round"/>
<path d="M594.4,486.5 C599.146,486.5 600.728,488.425 600.728,492.0 L600.728,505.1 C600.728,508.40000000000003 602.7167999999999,510.20000000000005 605.6999999999999,510.6 C602.7167999999999,511.0 600.728,512.8000000000001 600.728,516.1 L600.728,529.2 C600.728,532.7750000000001 599.146,534.7 594.4,534.7" fill="none" stroke="#111" stroke-width="1.9" stroke-linecap="round" stroke-linejoin="round"/>
<text x="484.5" y="552.6" font-size="8.4" fill="#333333" textLength="22.49" lengthAdjust="spacingAndGlyphs">RS485</text><text x="507" y="552.6" font-size="8.4" fill="#333333" textLength="16.8" lengthAdjust="spacingAndGlyphs">通讯</text>
<text x="550" y="552.6" font-size="8.4" fill="#333333" textLength="22.62" lengthAdjust="spacingAndGlyphs">RS232</text><text x="572.66" y="552.6" font-size="8.4" fill="#333333" textLength="16.8" lengthAdjust="spacingAndGlyphs">通讯</text>
<defs><g id="scr"><circle cx="0" cy="0" r="7.9" fill="#fff" stroke="#111" stroke-width="1.15"/><g transform="rotate(45)"><path d="M0,-7.8 L0,7.8" stroke="#1a1a1a" stroke-width="0.8" fill="none"/><path d="M-1.75,-5.4 L1.75,-5.4 L1.75,-1.75 L5.2,-1.75 L5.2,1.75 L1.75,1.75 L1.75,5.4 L-1.75,5.4 L-1.75,1.75 L-5.2,1.75 L-5.2,-1.75 L-1.75,-1.75 Z" fill="#fff" stroke="#111" stroke-width="0.95" stroke-linejoin="round"/></g></g><g id="sscr"><circle cx="0" cy="0" r="6.8" fill="#fff" stroke="#1a1a1a" stroke-width="1.15"/><circle cx="0" cy="0" r="5.2" fill="#fff" stroke="#1a1a1a" stroke-width="1.15"/><path d="M-0.9,-3.5 L0.9,-3.5 L0.9,-0.9 L3.5,-0.9 L3.5,0.9 L0.9,0.9 L0.9,3.5 L-0.9,3.5 L-0.9,0.9 L-3.5,0.9 L-3.5,-0.9 L-0.9,-0.9 Z" transform="rotate(45)" fill="#fff" stroke="#1a1a1a" stroke-width="0.9" stroke-linejoin="round"/></g></defs>
<rect x="87.9" y="597.0" width="277.70000000000005" height="86.5" fill="#fff" stroke="#1a1a1a" stroke-width="1.5" />
<line x1="93.2" y1="597.0" x2="93.2" y2="630" stroke="#1a1a1a" stroke-width="1" />
<line x1="93.2" y1="643.4" x2="93.2" y2="683.5" stroke="#1a1a1a" stroke-width="1" />
<line x1="93.2" y1="600.2" x2="365.6" y2="600.2" stroke="#1a1a1a" stroke-width="1" />
<line x1="93.2" y1="624.6" x2="365.6" y2="624.6" stroke="#1a1a1a" stroke-width="1" />
<line x1="87.9" y1="649" x2="365.6" y2="649" stroke="#1a1a1a" stroke-width="1.2" />
<line x1="93.2" y1="663.9" x2="361.8" y2="663.9" stroke="#1a1a1a" stroke-width="1.1" />
<line x1="361.8" y1="624.6" x2="361.8" y2="683.5" stroke="#1a1a1a" stroke-width="1" />
<path d="M87.9,630.1 L94.1,630.1 A6.5,6.5 0 0 1 94.1,643.1 L87.9,643.1" fill="#fff" stroke="#1a1a1a" stroke-width="1.1" />
<circle cx="94.1" cy="636.6" r="3.6" fill="#fff" stroke="#1a1a1a" stroke-width="1.1"/>
<path d="M365.6,604.3000000000001 L360.2,604.3000000000001 A6.3,6.3 0 0 0 360.2,616.9 L365.6,616.9" fill="#fff" stroke="#1a1a1a" stroke-width="1.1" />
<circle cx="360.2" cy="610.6" r="3.6" fill="#fff" stroke="#1a1a1a" stroke-width="1.1"/>
<rect x="94.1" y="601.0" width="21.4" height="23.0" fill="#fff" stroke="#333" stroke-width="0.7" />
<rect x="95.8" y="603.1" width="18.0" height="18.7" fill="#fff" stroke="#1a1a1a" stroke-width="1.5" />
<use href="#scr" x="104.8" y="612.4"/>
<rect x="116.5" y="600.2" width="2.4" height="24.4" fill="#fff" stroke="#333" stroke-width="0.7" />
<rect x="120.05" y="601.0" width="21.4" height="23.0" fill="#fff" stroke="#333" stroke-width="0.7" />
<rect x="121.75" y="603.1" width="18.0" height="18.7" fill="#fff" stroke="#1a1a1a" stroke-width="1.5" />
<use href="#scr" x="130.75" y="612.4"/>
<rect x="142.45" y="600.2" width="2.4" height="24.4" fill="#fff" stroke="#333" stroke-width="0.7" />
<rect x="146.0" y="601.0" width="21.4" height="23.0" fill="#fff" stroke="#333" stroke-width="0.7" />
<rect x="147.7" y="603.1" width="18.0" height="18.7" fill="#fff" stroke="#1a1a1a" stroke-width="1.5" />
<use href="#scr" x="156.7" y="612.4"/>
<rect x="168.4" y="600.2" width="2.4" height="24.4" fill="#fff" stroke="#333" stroke-width="0.7" />
<rect x="171.95" y="601.0" width="21.4" height="23.0" fill="#fff" stroke="#333" stroke-width="0.7" />
<rect x="173.64999999999998" y="603.1" width="18.0" height="18.7" fill="#fff" stroke="#1a1a1a" stroke-width="1.5" />
<use href="#scr" x="182.65" y="612.4"/>
<rect x="194.35" y="600.2" width="2.4" height="24.4" fill="#fff" stroke="#333" stroke-width="0.7" />
<rect x="197.89999999999998" y="601.0" width="21.4" height="23.0" fill="#fff" stroke="#333" stroke-width="0.7" />
<rect x="199.59999999999997" y="603.1" width="18.0" height="18.7" fill="#fff" stroke="#1a1a1a" stroke-width="1.5" />
<use href="#scr" x="208.6" y="612.4"/>
<rect x="220.29999999999998" y="600.2" width="2.4" height="24.4" fill="#fff" stroke="#333" stroke-width="0.7" />
<rect x="223.85" y="601.0" width="21.4" height="23.0" fill="#fff" stroke="#333" stroke-width="0.7" />
<rect x="225.54999999999998" y="603.1" width="18.0" height="18.7" fill="#fff" stroke="#1a1a1a" stroke-width="1.5" />
<use href="#scr" x="234.55" y="612.4"/>
<rect x="246.25" y="600.2" width="2.4" height="24.4" fill="#fff" stroke="#333" stroke-width="0.7" />
<rect x="249.79999999999998" y="601.0" width="21.4" height="23.0" fill="#fff" stroke="#333" stroke-width="0.7" />
<rect x="251.49999999999997" y="603.1" width="18.0" height="18.7" fill="#fff" stroke="#1a1a1a" stroke-width="1.5" />
<use href="#scr" x="260.5" y="612.4"/>
<rect x="272.2" y="600.2" width="2.4" height="24.4" fill="#fff" stroke="#333" stroke-width="0.7" />
<rect x="275.75" y="601.0" width="21.4" height="23.0" fill="#fff" stroke="#333" stroke-width="0.7" />
<rect x="277.45" y="603.1" width="18.0" height="18.7" fill="#fff" stroke="#1a1a1a" stroke-width="1.5" />
<use href="#scr" x="286.45" y="612.4"/>
<rect x="298.15" y="600.2" width="2.4" height="24.4" fill="#fff" stroke="#333" stroke-width="0.7" />
<rect x="301.7" y="601.0" width="21.4" height="23.0" fill="#fff" stroke="#333" stroke-width="0.7" />
<rect x="303.4" y="603.1" width="18.0" height="18.7" fill="#fff" stroke="#1a1a1a" stroke-width="1.5" />
<use href="#scr" x="312.4" y="612.4"/>
<rect x="324.09999999999997" y="600.2" width="2.4" height="24.4" fill="#fff" stroke="#333" stroke-width="0.7" />
<rect x="327.65" y="601.0" width="21.4" height="23.0" fill="#fff" stroke="#333" stroke-width="0.7" />
<rect x="329.34999999999997" y="603.1" width="18.0" height="18.7" fill="#fff" stroke="#1a1a1a" stroke-width="1.5" />
<use href="#scr" x="338.35" y="612.4"/>
<rect x="107.9" y="625.8" width="21.1" height="22.3" fill="#fff" stroke="#333" stroke-width="0.7" />
<rect x="109.60000000000001" y="627.9" width="17.700000000000003" height="18.0" fill="#fff" stroke="#1a1a1a" stroke-width="1.5" />
<use href="#scr" x="118.45" y="636.85"/>
<rect x="105.30000000000001" y="624.6" width="2.0" height="24.4" fill="#fff" stroke="#333" stroke-width="0.7" />
<rect x="133.70000000000002" y="625.8" width="21.1" height="22.3" fill="#fff" stroke="#333" stroke-width="0.7" />
<rect x="135.4" y="627.9" width="17.700000000000003" height="18.0" fill="#fff" stroke="#1a1a1a" stroke-width="1.5" />
<use href="#scr" x="144.25" y="636.85"/>
<rect x="131.10000000000002" y="624.6" width="2.0" height="24.4" fill="#fff" stroke="#333" stroke-width="0.7" />
<rect x="159.5" y="625.8" width="21.1" height="22.3" fill="#fff" stroke="#333" stroke-width="0.7" />
<rect x="161.2" y="627.9" width="17.700000000000003" height="18.0" fill="#fff" stroke="#1a1a1a" stroke-width="1.5" />
<use href="#scr" x="170.05" y="636.85"/>
<rect x="156.9" y="624.6" width="2.0" height="24.4" fill="#fff" stroke="#333" stroke-width="0.7" />
<rect x="185.3" y="625.8" width="21.1" height="22.3" fill="#fff" stroke="#333" stroke-width="0.7" />
<rect x="187.0" y="627.9" width="17.700000000000003" height="18.0" fill="#fff" stroke="#1a1a1a" stroke-width="1.5" />
<use href="#scr" x="195.85" y="636.85"/>
<rect x="182.70000000000002" y="624.6" width="2.0" height="24.4" fill="#fff" stroke="#333" stroke-width="0.7" />
<rect x="211.10000000000002" y="625.8" width="21.1" height="22.3" fill="#fff" stroke="#333" stroke-width="0.7" />
<rect x="212.8" y="627.9" width="17.700000000000003" height="18.0" fill="#fff" stroke="#1a1a1a" stroke-width="1.5" />
<use href="#scr" x="221.65" y="636.85"/>
<rect x="208.50000000000003" y="624.6" width="2.0" height="24.4" fill="#fff" stroke="#333" stroke-width="0.7" />
<rect x="236.9" y="625.8" width="21.1" height="22.3" fill="#fff" stroke="#333" stroke-width="0.7" />
<rect x="238.6" y="627.9" width="17.700000000000003" height="18.0" fill="#fff" stroke="#1a1a1a" stroke-width="1.5" />
<use href="#scr" x="247.45" y="636.85"/>
<rect x="234.3" y="624.6" width="2.0" height="24.4" fill="#fff" stroke="#333" stroke-width="0.7" />
<rect x="262.70000000000005" y="625.8" width="21.1" height="22.3" fill="#fff" stroke="#333" stroke-width="0.7" />
<rect x="264.40000000000003" y="627.9" width="17.700000000000003" height="18.0" fill="#fff" stroke="#1a1a1a" stroke-width="1.5" />
<use href="#scr" x="273.25" y="636.85"/>
<rect x="260.1" y="624.6" width="2.0" height="24.4" fill="#fff" stroke="#333" stroke-width="0.7" />
<rect x="288.5" y="625.8" width="21.1" height="22.3" fill="#fff" stroke="#333" stroke-width="0.7" />
<rect x="290.2" y="627.9" width="17.700000000000003" height="18.0" fill="#fff" stroke="#1a1a1a" stroke-width="1.5" />
<use href="#scr" x="299.05" y="636.85"/>
<rect x="285.9" y="624.6" width="2.0" height="24.4" fill="#fff" stroke="#333" stroke-width="0.7" />
<rect x="314.3" y="625.8" width="21.1" height="22.3" fill="#fff" stroke="#333" stroke-width="0.7" />
<rect x="316.0" y="627.9" width="17.700000000000003" height="18.0" fill="#fff" stroke="#1a1a1a" stroke-width="1.5" />
<use href="#scr" x="324.85" y="636.85"/>
<rect x="311.7" y="624.6" width="2.0" height="24.4" fill="#fff" stroke="#333" stroke-width="0.7" />
<rect x="340.1" y="625.8" width="21.1" height="22.3" fill="#fff" stroke="#333" stroke-width="0.7" />
<rect x="341.8" y="627.9" width="17.700000000000003" height="18.0" fill="#fff" stroke="#1a1a1a" stroke-width="1.5" />
<use href="#scr" x="350.65" y="636.85"/>
<rect x="337.5" y="624.6" width="2.0" height="24.4" fill="#fff" stroke="#333" stroke-width="0.7" />
<line x1="117.6" y1="649" x2="117.6" y2="663.9" stroke="#1a1a1a" stroke-width="1" />
<line x1="143.65" y1="649" x2="143.65" y2="663.9" stroke="#1a1a1a" stroke-width="1" />
<line x1="169.7" y1="649" x2="169.7" y2="663.9" stroke="#1a1a1a" stroke-width="1" />
<line x1="195.75" y1="649" x2="195.75" y2="663.9" stroke="#1a1a1a" stroke-width="1" />
<line x1="221.8" y1="649" x2="221.8" y2="663.9" stroke="#1a1a1a" stroke-width="1" />
<line x1="247.85" y1="649" x2="247.85" y2="663.9" stroke="#1a1a1a" stroke-width="1" />
<line x1="273.9" y1="649" x2="273.9" y2="663.9" stroke="#1a1a1a" stroke-width="1" />
<line x1="299.95" y1="649" x2="299.95" y2="663.9" stroke="#1a1a1a" stroke-width="1" />
<line x1="326.0" y1="649" x2="326.0" y2="663.9" stroke="#1a1a1a" stroke-width="1" />
<line x1="352.05" y1="649" x2="352.05" y2="663.9" stroke="#1a1a1a" stroke-width="1" />
<text x="130.625" y="660.9" font-size="11.2" text-anchor="middle" fill="#444" textLength="19.9" lengthAdjust="spacingAndGlyphs" >PSN</text>
<text x="156.675" y="660.9" font-size="11.2" text-anchor="middle" fill="#444" textLength="19.8" lengthAdjust="spacingAndGlyphs" >ZTC</text>
<text x="182.725" y="660.9" font-size="11.2" text-anchor="middle" fill="#444" textLength="14.3" lengthAdjust="spacingAndGlyphs" >NA</text>
<text x="208.775" y="660.9" font-size="11.2" text-anchor="middle" fill="#444" textLength="14.3" lengthAdjust="spacingAndGlyphs" >NB</text>
<text x="234.825" y="660.9" font-size="11.2" text-anchor="middle" fill="#444" textLength="19.8" lengthAdjust="spacingAndGlyphs" >MCC</text>
<text x="260.875" y="660.9" font-size="11.2" text-anchor="middle" fill="#444" textLength="19.8" lengthAdjust="spacingAndGlyphs" >MC2</text>
<text x="286.92499999999995" y="660.9" font-size="11.2" text-anchor="middle" fill="#444" textLength="19.9" lengthAdjust="spacingAndGlyphs" >MC4</text>
<text x="312.975" y="660.9" font-size="11.2" text-anchor="middle" fill="#444" textLength="19.9" lengthAdjust="spacingAndGlyphs" >MC6</text>
<text x="339.025" y="660.9" font-size="11.2" text-anchor="middle" fill="#444" textLength="18.5" lengthAdjust="spacingAndGlyphs" >DIO</text>
<line x1="105.5" y1="663.9" x2="105.5" y2="683.5" stroke="#1a1a1a" stroke-width="1" />
<line x1="131.3" y1="663.9" x2="131.3" y2="683.5" stroke="#1a1a1a" stroke-width="1" />
<line x1="157.1" y1="663.9" x2="157.1" y2="683.5" stroke="#1a1a1a" stroke-width="1" />
<line x1="182.9" y1="663.9" x2="182.9" y2="683.5" stroke="#1a1a1a" stroke-width="1" />
<line x1="208.7" y1="663.9" x2="208.7" y2="683.5" stroke="#1a1a1a" stroke-width="1" />
<line x1="234.5" y1="663.9" x2="234.5" y2="683.5" stroke="#1a1a1a" stroke-width="1" />
<line x1="260.3" y1="663.9" x2="260.3" y2="683.5" stroke="#1a1a1a" stroke-width="1" />
<line x1="286.1" y1="663.9" x2="286.1" y2="683.5" stroke="#1a1a1a" stroke-width="1" />
<line x1="311.9" y1="663.9" x2="311.9" y2="683.5" stroke="#1a1a1a" stroke-width="1" />
<line x1="337.70000000000005" y1="663.9" x2="337.70000000000005" y2="683.5" stroke="#1a1a1a" stroke-width="1" />
<text x="144.2" y="677.9" font-size="11.2" text-anchor="middle" fill="#444" textLength="12.6" lengthAdjust="spacingAndGlyphs" >ZT</text>
<text x="170.0" y="677.9" font-size="11.2" text-anchor="middle" fill="#444" textLength="12.6" lengthAdjust="spacingAndGlyphs" >ZT</text>
<text x="195.8" y="677.9" font-size="11.2" text-anchor="middle" fill="#444" textLength="13.0" lengthAdjust="spacingAndGlyphs" >PA</text>
<text x="221.6" y="677.9" font-size="11.2" text-anchor="middle" fill="#444" textLength="13.7" lengthAdjust="spacingAndGlyphs" >PB</text>
<text x="247.4" y="677.9" font-size="11.2" text-anchor="middle" fill="#444" textLength="19.4" lengthAdjust="spacingAndGlyphs" >MC1</text>
<text x="273.20000000000005" y="677.9" font-size="11.2" text-anchor="middle" fill="#444" textLength="19.4" lengthAdjust="spacingAndGlyphs" >MC3</text>
<text x="299.0" y="677.9" font-size="11.2" text-anchor="middle" fill="#444" textLength="19.4" lengthAdjust="spacingAndGlyphs" >MC5</text>
<text x="324.8" y="677.3" font-size="8.6" text-anchor="middle" fill="#444" textLength="17.6" lengthAdjust="spacingAndGlyphs" >GND</text>
<text x="350.6" y="677.3" font-size="9.6" text-anchor="middle" fill="#444" textLength="19.4" lengthAdjust="spacingAndGlyphs" >+24V</text>
<text x="107.3" y="658.7" font-size="10.6" text-anchor="middle" fill="#777" textLength="19.2" lengthAdjust="spacingAndGlyphs" >PSL</text>
<use href="#sscr" x="103.6" y="664.8"/>
<rect x="373.9" y="597.0" width="277.80000000000007" height="86.5" fill="#fff" stroke="#1a1a1a" stroke-width="1.5" />
<line x1="379.5" y1="597.0" x2="379.5" y2="630" stroke="#1a1a1a" stroke-width="1" />
<line x1="379.5" y1="643.4" x2="379.5" y2="683.5" stroke="#1a1a1a" stroke-width="1" />
<line x1="379.5" y1="600.2" x2="651.7" y2="600.2" stroke="#1a1a1a" stroke-width="1" />
<line x1="379.5" y1="624.6" x2="651.7" y2="624.6" stroke="#1a1a1a" stroke-width="1" />
<line x1="373.9" y1="649" x2="651.7" y2="649" stroke="#1a1a1a" stroke-width="1.2" />
<line x1="379.5" y1="663.9" x2="646.5" y2="663.9" stroke="#1a1a1a" stroke-width="1.1" />
<line x1="646.5" y1="624.6" x2="646.5" y2="683.5" stroke="#1a1a1a" stroke-width="1" />
<path d="M373.9,630.3 L380.5,630.3 A6.5,6.5 0 0 1 380.5,643.3 L373.9,643.3" fill="#fff" stroke="#1a1a1a" stroke-width="1.1" />
<circle cx="380.5" cy="636.8" r="3.6" fill="#fff" stroke="#1a1a1a" stroke-width="1.1"/>
<path d="M651.7,604.3000000000001 L645.8,604.3000000000001 A6.3,6.3 0 0 0 645.8,616.9 L651.7,616.9" fill="#fff" stroke="#1a1a1a" stroke-width="1.1" />
<circle cx="645.8" cy="610.6" r="3.6" fill="#fff" stroke="#1a1a1a" stroke-width="1.1"/>
<rect x="380.2" y="601.0" width="21.4" height="23.0" fill="#fff" stroke="#333" stroke-width="0.7" />
<rect x="381.9" y="603.1" width="18.0" height="18.7" fill="#fff" stroke="#1a1a1a" stroke-width="1.5" />
<use href="#scr" x="390.9" y="612.4"/>
<rect x="402.59999999999997" y="600.2" width="2.4" height="24.4" fill="#fff" stroke="#333" stroke-width="0.7" />
<rect x="406.07" y="601.0" width="21.4" height="23.0" fill="#fff" stroke="#333" stroke-width="0.7" />
<rect x="407.77" y="603.1" width="18.0" height="18.7" fill="#fff" stroke="#1a1a1a" stroke-width="1.5" />
<use href="#scr" x="416.77" y="612.4"/>
<rect x="428.46999999999997" y="600.2" width="2.4" height="24.4" fill="#fff" stroke="#333" stroke-width="0.7" />
<rect x="431.94" y="601.0" width="21.4" height="23.0" fill="#fff" stroke="#333" stroke-width="0.7" />
<rect x="433.64" y="603.1" width="18.0" height="18.7" fill="#fff" stroke="#1a1a1a" stroke-width="1.5" />
<use href="#scr" x="442.64" y="612.4"/>
<rect x="454.34" y="600.2" width="2.4" height="24.4" fill="#fff" stroke="#333" stroke-width="0.7" />
<rect x="457.81" y="601.0" width="21.4" height="23.0" fill="#fff" stroke="#333" stroke-width="0.7" />
<rect x="459.51" y="603.1" width="18.0" height="18.7" fill="#fff" stroke="#1a1a1a" stroke-width="1.5" />
<use href="#scr" x="468.51" y="612.4"/>
<rect x="480.21" y="600.2" width="2.4" height="24.4" fill="#fff" stroke="#333" stroke-width="0.7" />
<rect x="483.68" y="601.0" width="21.4" height="23.0" fill="#fff" stroke="#333" stroke-width="0.7" />
<rect x="485.38" y="603.1" width="18.0" height="18.7" fill="#fff" stroke="#1a1a1a" stroke-width="1.5" />
<use href="#scr" x="494.38" y="612.4"/>
<rect x="506.08" y="600.2" width="2.4" height="24.4" fill="#fff" stroke="#333" stroke-width="0.7" />
<rect x="509.54999999999995" y="601.0" width="21.4" height="23.0" fill="#fff" stroke="#333" stroke-width="0.7" />
<rect x="511.24999999999994" y="603.1" width="18.0" height="18.7" fill="#fff" stroke="#1a1a1a" stroke-width="1.5" />
<use href="#scr" x="520.25" y="612.4"/>
<rect x="531.9499999999999" y="600.2" width="2.4" height="24.4" fill="#fff" stroke="#333" stroke-width="0.7" />
<rect x="535.42" y="601.0" width="21.4" height="23.0" fill="#fff" stroke="#333" stroke-width="0.7" />
<rect x="537.12" y="603.1" width="18.0" height="18.7" fill="#fff" stroke="#1a1a1a" stroke-width="1.5" />
<use href="#scr" x="546.12" y="612.4"/>
<rect x="557.8199999999999" y="600.2" width="2.4" height="24.4" fill="#fff" stroke="#333" stroke-width="0.7" />
<rect x="561.29" y="601.0" width="21.4" height="23.0" fill="#fff" stroke="#333" stroke-width="0.7" />
<rect x="562.99" y="603.1" width="18.0" height="18.7" fill="#fff" stroke="#1a1a1a" stroke-width="1.5" />
<use href="#scr" x="571.99" y="612.4"/>
<rect x="583.6899999999999" y="600.2" width="2.4" height="24.4" fill="#fff" stroke="#333" stroke-width="0.7" />
<rect x="587.16" y="601.0" width="21.4" height="23.0" fill="#fff" stroke="#333" stroke-width="0.7" />
<rect x="588.86" y="603.1" width="18.0" height="18.7" fill="#fff" stroke="#1a1a1a" stroke-width="1.5" />
<use href="#scr" x="597.86" y="612.4"/>
<rect x="609.56" y="600.2" width="2.4" height="24.4" fill="#fff" stroke="#333" stroke-width="0.7" />
<rect x="613.03" y="601.0" width="21.4" height="23.0" fill="#fff" stroke="#333" stroke-width="0.7" />
<rect x="614.73" y="603.1" width="18.0" height="18.7" fill="#fff" stroke="#1a1a1a" stroke-width="1.5" />
<use href="#scr" x="623.73" y="612.4"/>
<rect x="393.0" y="625.8" width="21.1" height="22.3" fill="#fff" stroke="#333" stroke-width="0.7" />
<rect x="394.7" y="627.9" width="17.700000000000003" height="18.0" fill="#fff" stroke="#1a1a1a" stroke-width="1.5" />
<use href="#scr" x="403.55" y="636.85"/>
<rect x="390.4" y="624.6" width="2.0" height="24.4" fill="#fff" stroke="#333" stroke-width="0.7" />
<rect x="418.76" y="625.8" width="21.1" height="22.3" fill="#fff" stroke="#333" stroke-width="0.7" />
<rect x="420.46" y="627.9" width="17.700000000000003" height="18.0" fill="#fff" stroke="#1a1a1a" stroke-width="1.5" />
<use href="#scr" x="429.31" y="636.85"/>
<rect x="416.15999999999997" y="624.6" width="2.0" height="24.4" fill="#fff" stroke="#333" stroke-width="0.7" />
<rect x="444.52" y="625.8" width="21.1" height="22.3" fill="#fff" stroke="#333" stroke-width="0.7" />
<rect x="446.21999999999997" y="627.9" width="17.700000000000003" height="18.0" fill="#fff" stroke="#1a1a1a" stroke-width="1.5" />
<use href="#scr" x="455.07" y="636.85"/>
<rect x="441.91999999999996" y="624.6" width="2.0" height="24.4" fill="#fff" stroke="#333" stroke-width="0.7" />
<rect x="470.28" y="625.8" width="21.1" height="22.3" fill="#fff" stroke="#333" stroke-width="0.7" />
<rect x="471.97999999999996" y="627.9" width="17.700000000000003" height="18.0" fill="#fff" stroke="#1a1a1a" stroke-width="1.5" />
<use href="#scr" x="480.83" y="636.85"/>
<rect x="467.67999999999995" y="624.6" width="2.0" height="24.4" fill="#fff" stroke="#333" stroke-width="0.7" />
<rect x="496.04" y="625.8" width="21.1" height="22.3" fill="#fff" stroke="#333" stroke-width="0.7" />
<rect x="497.74" y="627.9" width="17.700000000000003" height="18.0" fill="#fff" stroke="#1a1a1a" stroke-width="1.5" />
<use href="#scr" x="506.59" y="636.85"/>
<rect x="493.44" y="624.6" width="2.0" height="24.4" fill="#fff" stroke="#333" stroke-width="0.7" />
<rect x="521.8" y="625.8" width="21.1" height="22.3" fill="#fff" stroke="#333" stroke-width="0.7" />
<rect x="523.5" y="627.9" width="17.700000000000003" height="18.0" fill="#fff" stroke="#1a1a1a" stroke-width="1.5" />
<use href="#scr" x="532.35" y="636.85"/>
<rect x="519.1999999999999" y="624.6" width="2.0" height="24.4" fill="#fff" stroke="#333" stroke-width="0.7" />
<rect x="547.56" y="625.8" width="21.1" height="22.3" fill="#fff" stroke="#333" stroke-width="0.7" />
<rect x="549.26" y="627.9" width="17.700000000000003" height="18.0" fill="#fff" stroke="#1a1a1a" stroke-width="1.5" />
<use href="#scr" x="558.11" y="636.85"/>
<rect x="544.9599999999999" y="624.6" width="2.0" height="24.4" fill="#fff" stroke="#333" stroke-width="0.7" />
<rect x="573.32" y="625.8" width="21.1" height="22.3" fill="#fff" stroke="#333" stroke-width="0.7" />
<rect x="575.0200000000001" y="627.9" width="17.700000000000003" height="18.0" fill="#fff" stroke="#1a1a1a" stroke-width="1.5" />
<use href="#scr" x="583.87" y="636.85"/>
<rect x="570.72" y="624.6" width="2.0" height="24.4" fill="#fff" stroke="#333" stroke-width="0.7" />
<rect x="599.08" y="625.8" width="21.1" height="22.3" fill="#fff" stroke="#333" stroke-width="0.7" />
<rect x="600.7800000000001" y="627.9" width="17.700000000000003" height="18.0" fill="#fff" stroke="#1a1a1a" stroke-width="1.5" />
<use href="#scr" x="609.63" y="636.85"/>
<rect x="596.48" y="624.6" width="2.0" height="24.4" fill="#fff" stroke="#333" stroke-width="0.7" />
<rect x="624.84" y="625.8" width="21.1" height="22.3" fill="#fff" stroke="#333" stroke-width="0.7" />
<rect x="626.5400000000001" y="627.9" width="17.700000000000003" height="18.0" fill="#fff" stroke="#1a1a1a" stroke-width="1.5" />
<use href="#scr" x="635.39" y="636.85"/>
<rect x="622.24" y="624.6" width="2.0" height="24.4" fill="#fff" stroke="#333" stroke-width="0.7" />
<line x1="402.2" y1="649" x2="402.2" y2="663.9" stroke="#1a1a1a" stroke-width="1" />
<line x1="428.15" y1="649" x2="428.15" y2="663.9" stroke="#1a1a1a" stroke-width="1" />
<line x1="454.09999999999997" y1="649" x2="454.09999999999997" y2="663.9" stroke="#1a1a1a" stroke-width="1" />
<line x1="480.04999999999995" y1="649" x2="480.04999999999995" y2="663.9" stroke="#1a1a1a" stroke-width="1" />
<line x1="506.0" y1="649" x2="506.0" y2="663.9" stroke="#1a1a1a" stroke-width="1" />
<line x1="531.95" y1="649" x2="531.95" y2="663.9" stroke="#1a1a1a" stroke-width="1" />
<line x1="557.9" y1="649" x2="557.9" y2="663.9" stroke="#1a1a1a" stroke-width="1" />
<line x1="583.85" y1="649" x2="583.85" y2="663.9" stroke="#1a1a1a" stroke-width="1" />
<line x1="609.8" y1="649" x2="609.8" y2="663.9" stroke="#1a1a1a" stroke-width="1" />
<line x1="635.75" y1="649" x2="635.75" y2="663.9" stroke="#1a1a1a" stroke-width="1" />
<text x="390.85" y="660.9" font-size="11.2" text-anchor="middle" fill="#444" textLength="18.5" lengthAdjust="spacingAndGlyphs" >DIA</text>
<text x="415.17499999999995" y="660.9" font-size="11.2" text-anchor="middle" fill="#444" textLength="19.7" lengthAdjust="spacingAndGlyphs" >GRL</text>
<text x="441.125" y="660.3" font-size="8.6" text-anchor="middle" fill="#444" textLength="19.7" lengthAdjust="spacingAndGlyphs" >REDL</text>
<text x="467.07499999999993" y="660.3" font-size="8.6" text-anchor="middle" fill="#444" textLength="19.7" lengthAdjust="spacingAndGlyphs" >REDR</text>
<text x="493.025" y="660.9" font-size="11.2" text-anchor="middle" fill="#444" textLength="19.8" lengthAdjust="spacingAndGlyphs" >GRR</text>
<text x="518.975" y="660.9" font-size="11.2" text-anchor="middle" fill="#444" textLength="14.3" lengthAdjust="spacingAndGlyphs" >SN</text>
<text x="544.925" y="660.9" font-size="11.2" text-anchor="middle" fill="#444" textLength="19.7" lengthAdjust="spacingAndGlyphs" >EAN</text>
<text x="570.875" y="660.9" font-size="11.2" text-anchor="middle" fill="#444" textLength="18.6" lengthAdjust="spacingAndGlyphs" >+5V</text>
<text x="596.825" y="660.9" font-size="11.2" text-anchor="middle" fill="#444" textLength="12.6" lengthAdjust="spacingAndGlyphs" >0V</text>
<line x1="388.9" y1="663.9" x2="388.9" y2="683.5" stroke="#1a1a1a" stroke-width="1" />
<line x1="415.0" y1="663.9" x2="415.0" y2="683.5" stroke="#1a1a1a" stroke-width="1" />
<line x1="441.09999999999997" y1="663.9" x2="441.09999999999997" y2="683.5" stroke="#1a1a1a" stroke-width="1" />
<line x1="467.2" y1="663.9" x2="467.2" y2="683.5" stroke="#1a1a1a" stroke-width="1" />
<line x1="493.29999999999995" y1="663.9" x2="493.29999999999995" y2="683.5" stroke="#1a1a1a" stroke-width="1" />
<line x1="519.4" y1="663.9" x2="519.4" y2="683.5" stroke="#1a1a1a" stroke-width="1" />
<line x1="545.5" y1="663.9" x2="545.5" y2="683.5" stroke="#1a1a1a" stroke-width="1" />
<line x1="571.6" y1="663.9" x2="571.6" y2="683.5" stroke="#1a1a1a" stroke-width="1" />
<line x1="597.7" y1="663.9" x2="597.7" y2="683.5" stroke="#1a1a1a" stroke-width="1" />
<line x1="623.8" y1="663.9" x2="623.8" y2="683.5" stroke="#1a1a1a" stroke-width="1" />
<text x="401.95" y="677.9" font-size="11.2" text-anchor="middle" fill="#444" textLength="19.5" lengthAdjust="spacingAndGlyphs" >DIB</text>
<text x="428.04999999999995" y="677.9" font-size="11.2" text-anchor="middle" fill="#444" textLength="19.7" lengthAdjust="spacingAndGlyphs" >WHL</text>
<text x="454.15" y="677.3" font-size="9.4" text-anchor="middle" fill="#444" textLength="19.7" lengthAdjust="spacingAndGlyphs" >BLKL</text>
<text x="480.25" y="677.3" font-size="9.4" text-anchor="middle" fill="#444" textLength="19.7" lengthAdjust="spacingAndGlyphs" >BLKR</text>
<text x="506.34999999999997" y="677.9" font-size="11.2" text-anchor="middle" fill="#444" textLength="19.7" lengthAdjust="spacingAndGlyphs" >WHR</text>
<text x="532.45" y="677.9" font-size="11.2" text-anchor="middle" fill="#444" textLength="13.7" lengthAdjust="spacingAndGlyphs" >SA</text>
<text x="558.55" y="677.9" font-size="11.2" text-anchor="middle" fill="#444" textLength="19.7" lengthAdjust="spacingAndGlyphs" >EAP</text>
<text x="584.6500000000001" y="677.9" font-size="11.2" text-anchor="middle" fill="#444" textLength="19.7" lengthAdjust="spacingAndGlyphs" >TRG</text>
<text x="610.75" y="677.9" font-size="11.2" text-anchor="middle" fill="#444" textLength="19.7" lengthAdjust="spacingAndGlyphs" >TR+</text>
<text x="635.6" y="681.6" font-size="8.6" text-anchor="middle" fill="#444" textLength="16.8" lengthAdjust="spacingAndGlyphs" >TRG</text>
<text x="620.6" y="659.9" font-size="11.2" text-anchor="middle" fill="#444" textLength="18.4" lengthAdjust="spacingAndGlyphs" >TR-</text>
<use href="#sscr" x="373.9" y="664.8"/>
<use href="#sscr" x="635.6" y="664.4"/>
<text x="88.8" y="578.6" font-size="10.3" fill="#444" textLength="32.4" lengthAdjust="spacingAndGlyphs">接线排</text><text x="121.96" y="578.6" font-size="10.3" fill="#444" textLength="9.34" lengthAdjust="spacingAndGlyphs">1:</text>
<text x="375.3" y="582.4" font-size="10.3" fill="#444" textLength="32" lengthAdjust="spacingAndGlyphs">接线排</text><text x="407.86" y="582.4" font-size="10.3" fill="#444" textLength="9.14" lengthAdjust="spacingAndGlyphs">2:</text>
<polyline points="78,612.5 70,612.5 70,657.6 78,657.6" fill="none" stroke="#111" stroke-width="1.3" />
<polyline points="78,637 60.5,637 60.5,674.6 78,674.6" fill="none" stroke="#111" stroke-width="1.3" />
<polygon points="84,612.5 77.8,609.6 77.8,615.4" fill="#111"/>
<polygon points="84,637 77.8,634.1 77.8,639.9" fill="#111"/>
<polygon points="84,657.6 77.8,654.7 77.8,660.5" fill="#111"/>
<polygon points="84,674.6 77.8,671.7 77.8,677.5" fill="#111"/>
</svg>
</body></html>
